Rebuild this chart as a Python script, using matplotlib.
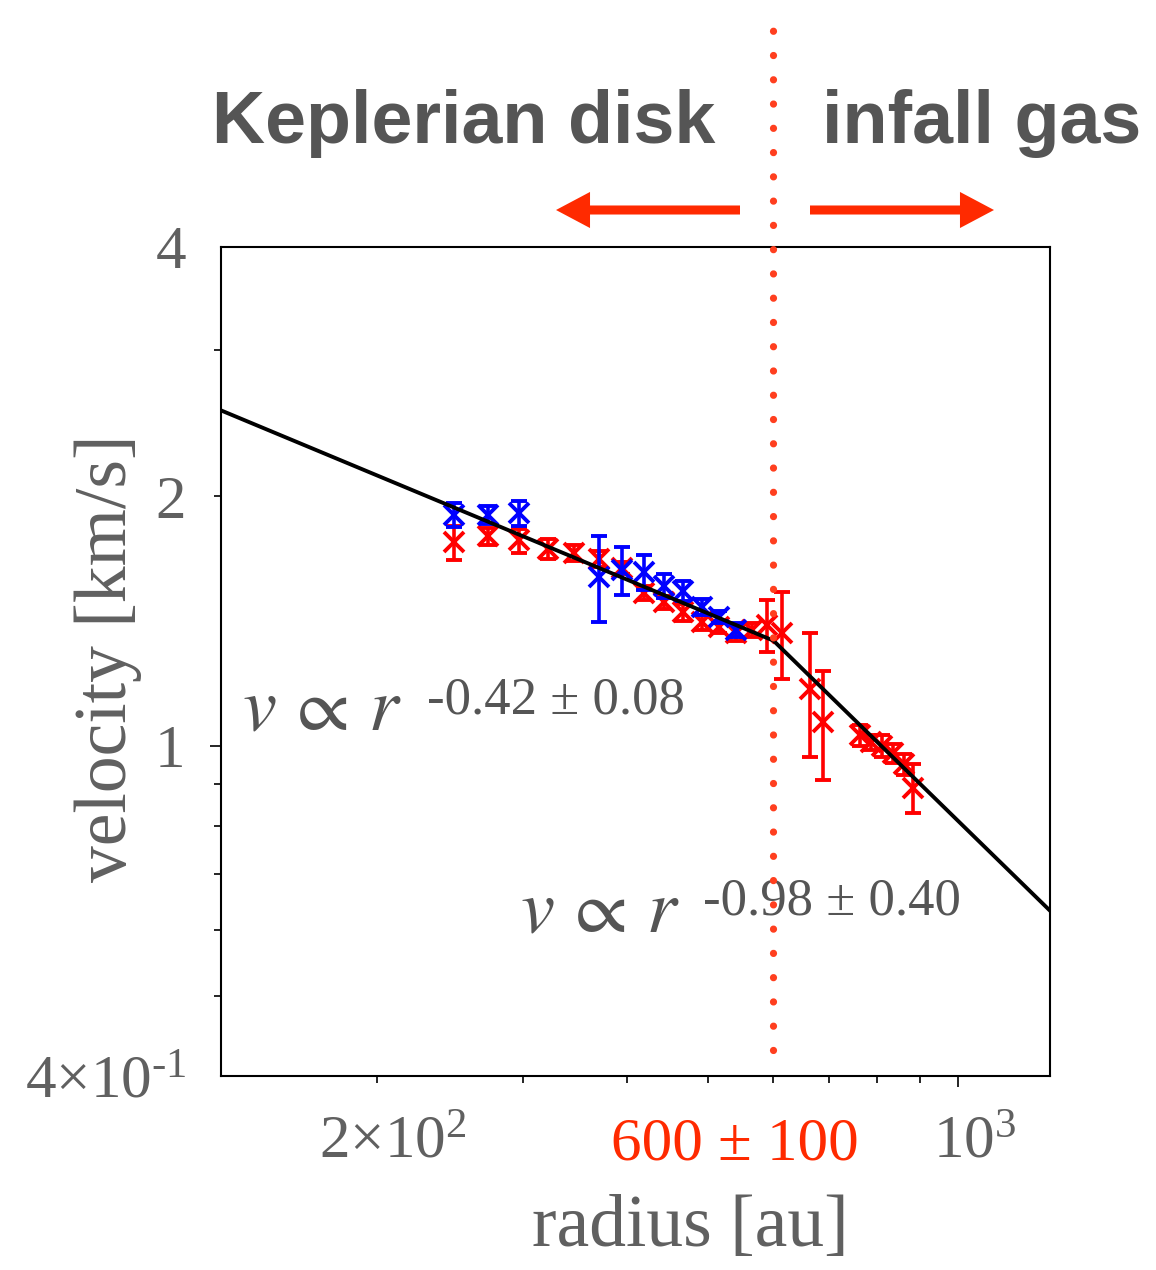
import matplotlib
matplotlib.use('Agg')
import matplotlib.pyplot as plt
import matplotlib.transforms as mtransforms
from matplotlib.ticker import FixedLocator, FuncFormatter

plt.rcParams['font.family'] = ['Liberation Serif', 'DejaVu Sans']
plt.rcParams['mathtext.fontset'] = 'custom'
plt.rcParams['mathtext.rm'] = 'Liberation Serif'
plt.rcParams['mathtext.it'] = 'Liberation Serif:italic'

# rotation velocities
blue_r = [248, 272, 297, 370, 394, 419, 443, 467, 492, 516, 541]
blue_v = [1.90, 1.90, 1.91, 1.60, 1.63, 1.62, 1.56, 1.54, 1.47, 1.43, 1.38]
blue_err = [0.065, 0.048, 0.066, 0.19, 0.11, 0.079, 0.053, 0.043, 0.033, 0.024, 0.027]

red_r = [248, 272, 297, 321, 345, 370, 394, 419, 443, 467, 492, 516,
         541, 565, 590, 614, 664, 688, 762, 786, 811, 835, 860, 884]
red_v = [1.76, 1.79, 1.77, 1.73, 1.71, 1.68, 1.64, 1.53, 1.49, 1.45, 1.41, 1.39,
         1.37, 1.38, 1.40, 1.37, 1.17, 1.07, 1.03, 1.01, 1.00, 0.98, 0.95, 0.89]
red_err = [0.084, 0.044, 0.059, 0.048, 0.038, 0.037, 0.028, 0.030, 0.025, 0.033, 0.028, 0.023,
           0.031, 0.027, 0.10, 0.165, 0.20, 0.16, 0.029, 0.020, 0.030, 0.025, 0.027, 0.060]

# broken power-law fit (break at ~600 au)
fit_r = [130, 600, 1290]
fit_v = [2.54, 1.34, 0.633]
r_break = 600

x_major = [1000]
x_minor = [200, 300, 400, 500, 600, 700, 800, 900]
x_labels = {200: r'$2{\times}10^{2}$', 1000: r'$10^{3}$'}
y_major = [1]
y_minor = [0.4, 0.5, 0.6, 0.7, 0.8, 0.9, 2, 3, 4]
y_labels = {0.4: r'$4{\times}10^{\text{-}1}$', 1: '1', 2: '2', 4: '4'}

gray = '#606060'
red_line = '#ff3f1f'
red_txt = '#ff2a00'

fig = plt.figure(figsize=(11.56, 12.7), dpi=100)
ax = fig.add_axes([0.1912, 0.1528, 0.7171, 0.6528])

ax.errorbar(red_r, red_v, yerr=red_err, fmt='x', color='red', ms=14, mew=2.8,
            elinewidth=2.6, capsize=5.5, capthick=2.6, zorder=2)
ax.errorbar(blue_r, blue_v, yerr=blue_err, fmt='x', color='blue', ms=14, mew=2.8,
            elinewidth=2.6, capsize=5.5, capthick=2.6, zorder=3)
ax.plot(fit_r, fit_v, color='black', lw=2.8, zorder=4)

ax.set_xscale('log')
ax.set_yscale('log')
ax.set_xlim(130, 1290)
ax.set_ylim(0.4, 4)

ax.xaxis.set_major_locator(FixedLocator(x_major))
ax.xaxis.set_minor_locator(FixedLocator(x_minor))
ax.yaxis.set_major_locator(FixedLocator(y_major))
ax.yaxis.set_minor_locator(FixedLocator(y_minor))
xfmt = FuncFormatter(lambda v, p: x_labels.get(round(v, 3), ''))
yfmt = FuncFormatter(lambda v, p: y_labels.get(round(v, 3), ''))
ax.xaxis.set_major_formatter(xfmt)
ax.xaxis.set_minor_formatter(xfmt)
ax.yaxis.set_major_formatter(yfmt)
ax.yaxis.set_minor_formatter(yfmt)

ax.tick_params(which='both', direction='out', width=1.2, labelsize=44,
               labelcolor=gray, top=False, right=False)
ax.tick_params(which='major', length=8)
ax.tick_params(which='minor', length=5)
ax.tick_params(axis='x', which='major', pad=20)
ax.tick_params(axis='x', which='minor', pad=23)
ax.tick_params(axis='y', which='major', pad=18)
ax.tick_params(axis='y', which='minor', pad=20)

# no tick marks at the axis corners
ylocs = ax.yaxis.get_minorticklocs()
for t, v in zip(ax.yaxis.get_minor_ticks(len(ylocs)), ylocs):
    if round(v, 3) in (0.4, 4):
        t.tick1line.set_visible(False)

# x tick labels sit a little right of their ticks in the original
shift = mtransforms.ScaledTranslation(12 / 72, 0, fig.dpi_scale_trans)
for lab in ax.get_xticklabels(which='both'):
    lab.set_transform(lab.get_transform() + shift)

for s in ax.spines.values():
    s.set_linewidth(1.5)

ax.set_xlabel('radius [au]', fontsize=53, color=gray)
ax.set_ylabel('velocity [km/s]', fontsize=53, color=gray)
ax.xaxis.set_label_coords(0.566, -0.143)
ax.yaxis.set_label_coords(-0.095, 0.504)

# break radius
ax.axvline(r_break, ymin=0.031, ymax=1.278, clip_on=False, color=red_line, lw=5.2,
           linestyle=(0, (0.01, 3.35)), dash_capstyle='round', zorder=5)
ax.text(539, -0.101, '600 ± 100', transform=ax.get_xaxis_transform(), ha='center',
        va='baseline', fontsize=44, color=red_txt)

# power-law labels
eq = dict(fontsize=55, color='#555555', va='baseline', math_fontfamily='stix')
ax.text(137.9, 1.046, r'$v\,\propto\,r$', **eq)
ax.text(229.7, 1.096, '-0.42 ± 0.08', fontsize=38, color='#555555', va='baseline')
ax.text(297.3, 0.597, r'$v\,\propto\,r$', **eq)
ax.text(493.6, 0.626, '-0.98 ± 0.40', fontsize=38, color='#555555', va='baseline')

# region headings and arrows
fig.text(212 / 1156, 1 - 143 / 1270, 'Keplerian disk', fontsize=53, fontweight='bold',
         family='Liberation Sans', color='#555555', va='baseline')
fig.text(822 / 1156, 1 - 143 / 1270, 'infall gas', fontsize=53, fontweight='bold',
         family='Liberation Sans', color='#555555', va='baseline')
arrow = dict(arrowstyle='simple,head_length=2.45,head_width=2.6,tail_width=0.65',
             mutation_scale=10, color=red_txt, lw=0, shrinkA=0, shrinkB=0)
ax.annotate('', xy=(556, 1060), xytext=(740, 1060), xycoords='figure pixels',
            textcoords='figure pixels', arrowprops=arrow)
ax.annotate('', xy=(994, 1060), xytext=(810, 1060), xycoords='figure pixels',
            textcoords='figure pixels', arrowprops=arrow)

fig.savefig('out.png', dpi=100)
